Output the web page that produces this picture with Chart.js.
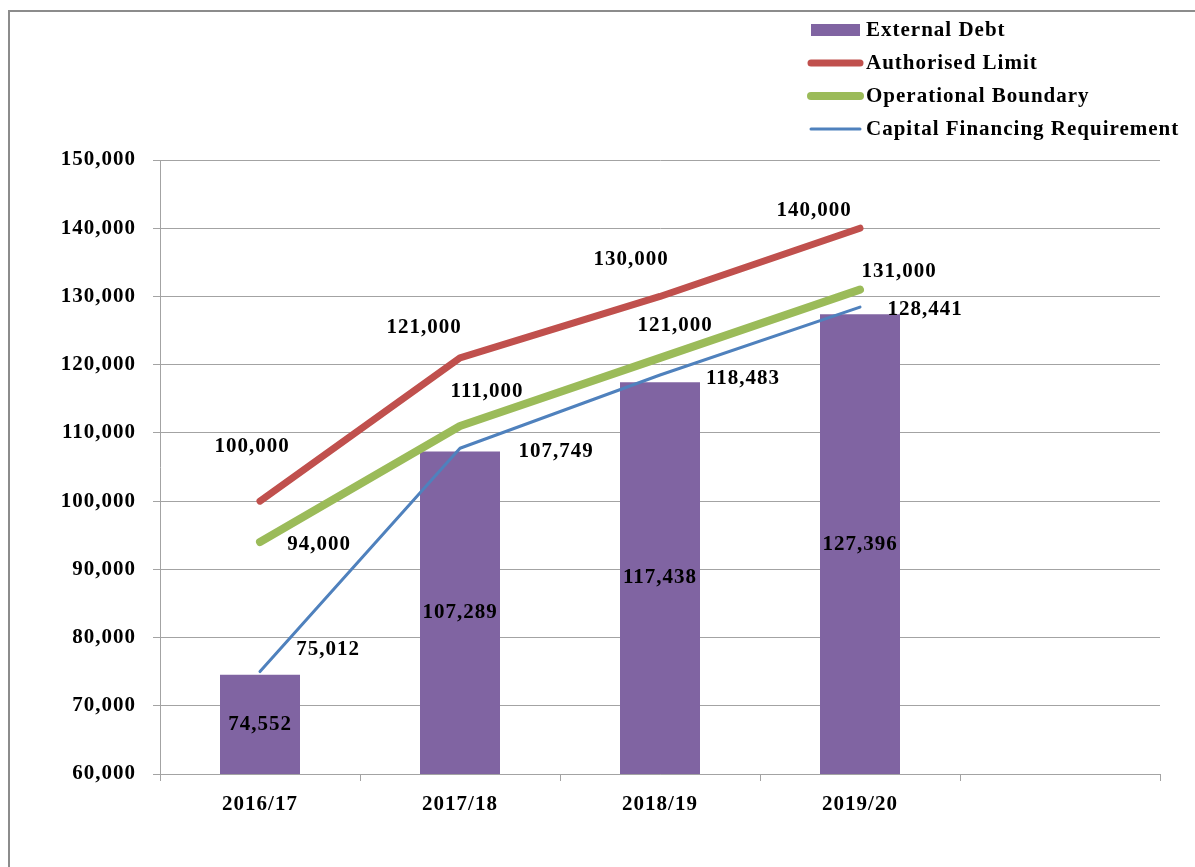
<!DOCTYPE html>
<html><head><meta charset="utf-8">
<script src="https://cdn.jsdelivr.net/npm/chart.js@4/dist/chart.umd.min.js"></script>
<style>
html,body{margin:0;padding:0;background:#fff;overflow:hidden}
#wrap{position:relative;width:1195px;height:867px}
</style></head>
<body><div id="wrap"><canvas id="c" width="1195" height="867"></canvas></div>
<script>
// ---- data ----
const categories = ['2016/17', '2017/18', '2018/19', '2019/20', ''];
const externalDebt = [74552, 107289, 117438, 127396];
const authorisedLimit = [100000, 121000, 130000, 140000];
const operationalBoundary = [94000, 111000, 121000, 131000];
const capitalFinancingRequirement = [75012, 107749, 118483, 128441];
const yMin = 60000, yMax = 150000, yStep = 10000;
const seriesNames = ['External Debt', 'Authorised Limit', 'Operational Boundary', 'Capital Financing Requirement'];

// ---- style ----
const FONT = 'Liberation Serif, Times New Roman, serif';
const FS = 21;
const COLORS = {bar: '#8064A2', red: '#C0504D', green: '#9BBB59', blue: '#4F81BD'};
const GRID = '#a3a3a3';

// label offsets (pixel offsets relative to the point), styling only
const labelOffsets = {
  1: [[-8, -55], [-36, -30], [-29, -37], [-46, -18]],
  2: [[59, 3], [27, -34], [15, -32], [39, -18]],
  3: [[68, -22], [96, 3], [83, 4], [65, 2]]
};

const fmt = v => Number(v).toLocaleString('en-US');

const spacingPlugin = {
  id: 'spacing',
  beforeDraw(chart) {
    chart.ctx.letterSpacing = '1px';
    const ctx = chart.ctx;
    ctx.save();
    ctx.strokeStyle = '#8c8c8c';
    ctx.lineWidth = 2;
    ctx.beginPath();
    ctx.moveTo(9, 867);
    ctx.lineTo(9, 11);
    ctx.lineTo(1195, 11);
    ctx.stroke();
    ctx.restore();
  }
};

const labelPlugin = {
  id: 'valueLabels',
  afterDatasetsDraw(chart) {
    const ctx = chart.ctx;
    const bottom = chart.chartArea.bottom;
    ctx.save();
    ctx.letterSpacing = '1px';
    ctx.font = 'bold ' + FS + 'px ' + FONT;
    ctx.fillStyle = '#000';
    ctx.textAlign = 'center';
    ctx.textBaseline = 'middle';
    chart.data.datasets.forEach((ds, di) => {
      const meta = chart.getDatasetMeta(di);
      meta.data.forEach((el, i) => {
        const v = ds.data[i];
        if (v === undefined || v === null) return;
        let x, y;
        if (ds.type === 'bar') {
          x = el.x; y = (el.y + Math.min(el.base, bottom)) / 2;
        } else {
          const off = labelOffsets[di][i];
          x = el.x + off[0]; y = el.y + off[1];
        }
        ctx.fillText(fmt(v), x, y);
      });
    });
    ctx.restore();
  }
};

const legendPlugin = {
  id: 'customLegend',
  afterDraw(chart) {
    const ctx = chart.ctx;
    ctx.save();
    ctx.letterSpacing = '1px';
    ctx.font = 'bold ' + FS + 'px ' + FONT;
    ctx.fillStyle = '#000';
    ctx.textAlign = 'left';
    ctx.textBaseline = 'middle';
    const x0 = 811, x1 = 860, tx = 866, top = 30, step = 33;
    chart.data.datasets.forEach((ds, i) => {
      const y = top + i * step;
      if (ds.type === 'bar') {
        ctx.fillStyle = ds.backgroundColor;
        ctx.fillRect(x0, y - 6, x1 - x0, 12);
      } else {
        ctx.strokeStyle = ds.borderColor;
        ctx.lineWidth = ds.borderWidth;
        ctx.lineCap = 'round';
        ctx.beginPath();
        ctx.moveTo(x0, y);
        ctx.lineTo(x1, y);
        ctx.stroke();
      }
      ctx.fillStyle = '#000';
      ctx.fillText(ds.label, tx, y + 1);
    });
    ctx.restore();
  }
};

const lineDs = (label, data, color, width) => ({
  type: 'line', label, data, borderColor: color, backgroundColor: color,
  borderWidth: width, borderCapStyle: 'round', borderJoinStyle: 'round',
  pointRadius: 0, pointHoverRadius: 0, tension: 0, fill: false, order: 0
});

new Chart(document.getElementById('c'), {
  data: {
    labels: categories,
    datasets: [
      {type: 'bar', label: seriesNames[0], data: externalDebt, backgroundColor: COLORS.bar,
       barPercentage: 0.4, categoryPercentage: 1.0, order: 1},
      lineDs(seriesNames[1], authorisedLimit, COLORS.red, 7),
      lineDs(seriesNames[2], operationalBoundary, COLORS.green, 8),
      lineDs(seriesNames[3], capitalFinancingRequirement, COLORS.blue, 3)
    ]
  },
  options: {
    responsive: false,
    animation: false,
    events: [],
    layout: {padding: {left: 0, top: 160, right: 35, bottom: 0}},
    plugins: {legend: {display: false}, tooltip: {enabled: false}},
    scales: {
      x: {
        offset: true,
        grid: {offset: true, drawOnChartArea: false, drawTicks: true, tickLength: 7, color: GRID},
        border: {display: true, color: GRID, width: 1},
        ticks: {color: '#000', font: {family: FONT, size: FS, weight: 'bold'}, padding: 11, autoSkip: false, maxRotation: 0},
        afterFit(s) { s.height = 93; }
      },
      y: {
        min: yMin, max: yMax,
        grid: {color: GRID, drawTicks: true, tickLength: 7},
        border: {display: true, color: GRID, width: 1},
        ticks: {stepSize: yStep, color: '#000', font: {family: FONT, size: FS, weight: 'bold'}, padding: 17,
                callback: v => fmt(v)},
        afterFit(s) { s.width = 160; }
      }
    }
  },
  plugins: [spacingPlugin, labelPlugin, legendPlugin]
});
</script>
</body></html>
